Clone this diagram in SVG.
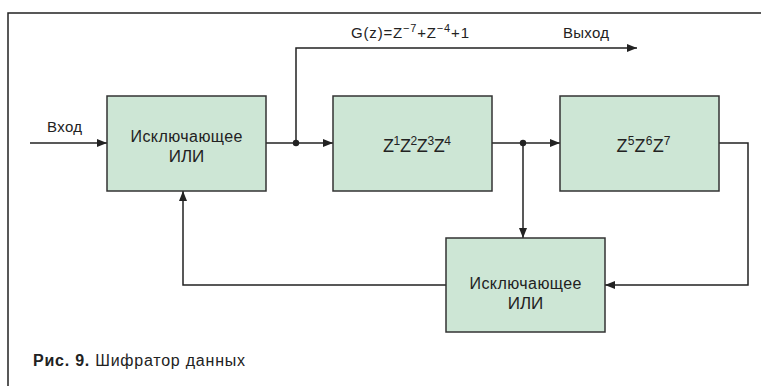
<svg xmlns="http://www.w3.org/2000/svg" width="761" height="386" viewBox="0 0 761 386">
<style>
.box{fill:#cde6d5;stroke:#333;stroke-width:1.5}
.ln{fill:none;stroke:#222;stroke-width:1.5}
.t{font-family:"Liberation Sans","Noto Sans",sans-serif;font-size:15px;fill:#222}
.b{font-size:16px}
.i{font-size:17px}
.z{font-size:18px}
.c{text-anchor:middle}
.sup{font-size:11px}
.zs{font-size:12px}
</style>
<defs>
<marker id="ah" viewBox="0 0 10 10" refX="10" refY="5" markerWidth="10" markerHeight="10" markerUnits="userSpaceOnUse" orient="auto">
<path d="M0,1 L10,5 L0,9 Z" fill="#222"/>
</marker>
</defs>
<rect width="761" height="386" fill="#fff"/>
<path class="ln" d="M8,386 V13 H761"/>
<g id="connectors">
<path class="ln" d="M30,143 H107" marker-end="url(#ah)"/>
<path class="ln" d="M266,143 H333" marker-end="url(#ah)"/>
<path class="ln" d="M296,143 V48 H637" marker-end="url(#ah)"/>
<path class="ln" d="M492,143 H560" marker-end="url(#ah)"/>
<path class="ln" d="M523,143 V238" marker-end="url(#ah)"/>
<path class="ln" d="M719,143 H748 V285 H605" marker-end="url(#ah)"/>
<path class="ln" d="M446,285 H183 V191" marker-end="url(#ah)"/>
<circle cx="296" cy="143" r="3.2" fill="#222"/>
<circle cx="523" cy="143" r="3.2" fill="#222"/>
</g>
<g id="labels">
<text class="t" x="47" y="132" textLength="35">Вход</text>
<text class="t" x="351" y="38" textLength="118">G(z)=Z<tspan class="sup" dy="-6">−7</tspan><tspan dy="6">+Z</tspan><tspan class="sup" dy="-6">−4</tspan><tspan dy="6">+1</tspan></text>
<text class="t" x="563" y="38" textLength="46">Выход</text>
</g>
<g id="xor1">
<rect class="box" x="107" y="96" width="159" height="95"/>
<text class="t b c" x="186.5" y="142" textLength="112">Исключающее</text>
<text class="t i c" x="186.5" y="162">ИЛИ</text>
</g>
<g id="delay1">
<rect class="box" x="333" y="96" width="159" height="95"/>
<text class="t z c" x="417" y="152" textLength="68">Z<tspan class="zs" dy="-7">1</tspan><tspan dy="7">Z</tspan><tspan class="zs" dy="-7">2</tspan><tspan dy="7">Z</tspan><tspan class="zs" dy="-7">3</tspan><tspan dy="7">Z</tspan><tspan class="zs" dy="-7">4</tspan></text>
</g>
<g id="delay2">
<rect class="box" x="560" y="96" width="159" height="95"/>
<text class="t z c" x="643.5" y="152" textLength="54">Z<tspan class="zs" dy="-7">5</tspan><tspan dy="7">Z</tspan><tspan class="zs" dy="-7">6</tspan><tspan dy="7">Z</tspan><tspan class="zs" dy="-7">7</tspan></text>
</g>
<g id="xor2">
<rect class="box" x="446" y="238" width="159" height="94"/>
<text class="t b c" x="525.5" y="289" textLength="112">Исключающее</text>
<text class="t i c" x="525.5" y="309">ИЛИ</text>
</g>
<g id="caption">
<text class="t" x="33" y="366" style="font-size:16px" textLength="212"><tspan font-weight="bold">Рис. 9.</tspan> Шифратор данных</text>
</g>
</svg>
